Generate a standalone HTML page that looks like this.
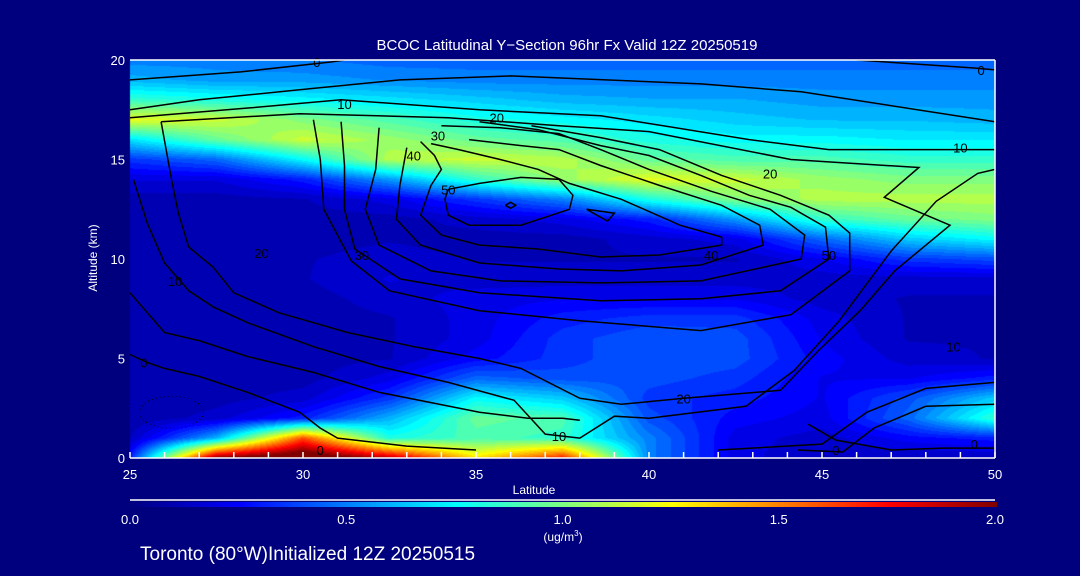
<!DOCTYPE html>
<html><head><meta charset="utf-8">
<style>
html,body{margin:0;padding:0;background:#00007f;}
#wrap{position:relative;width:1080px;height:576px;background:#00007f;overflow:hidden;font-family:"Liberation Sans",sans-serif;color:#fff;}
canvas{position:absolute;left:0;top:0;}
svg{position:absolute;left:0;top:0;}
</style></head>
<body>
<div id="wrap">
<canvas id="heat" width="1080" height="576"></canvas>
<svg id="svg" width="1080" height="576">
  <text x="567" y="50" text-anchor="middle" font-size="15" fill="#fff">BCOC Latitudinal Y−Section 96hr  Fx Valid 12Z 20250519</text>
  <text x="0" y="0" transform="translate(97,258) rotate(-90)" text-anchor="middle" font-size="12" fill="#fff">Altitude (km)</text>
  <text x="534" y="494" text-anchor="middle" font-size="12" fill="#fff">Latitude</text>
  <text x="563" y="541" text-anchor="middle" font-size="12" fill="#fff">(ug/m<tspan font-size="8" dy="-5">3</tspan><tspan dy="5">)</tspan></text>
  <text x="140" y="560" font-size="19" fill="#fff">Toronto (80°W)Initialized 12Z 20250515</text>
  <g id="g-contours"></g>
  <g id="g-axes"></g>
  <g id="g-cbar"></g>
</svg>
</div>
<script>
// ---- data ----
const lats = [25,27.5,30,32.5,35,37.5,40,42.5,45,47.5,50];
const alts = [0,1,2,3,4,5,6,7,8,9,10,11,12,13,14,15,16,17,18,19,20];
const conc25  = [0.3,0.12,0.08,0.08,0.1,0.12,0.12,0.12,0.1,0.08,0.08,0.08,0.08,0.1,0.18,0.35,0.7,1.2,0.85,0.6,0.5];
const conc275 = [2.0,0.6,0.15,0.1,0.1,0.1,0.1,0.1,0.08,0.08,0.08,0.08,0.08,0.1,0.18,0.45,0.95,1.15,0.8,0.55,0.5];
const conc30  = [2.2,1.6,0.3,0.15,0.1,0.1,0.1,0.1,0.1,0.12,0.12,0.1,0.1,0.12,0.3,0.75,1.15,1.0,0.75,0.55,0.48];
const conc325 = [1.9,0.8,0.6,0.35,0.2,0.12,0.12,0.12,0.15,0.18,0.15,0.12,0.1,0.2,0.55,1.1,1.05,0.9,0.7,0.52,0.45];
const conc35  = [1.3,0.9,0.95,0.75,0.45,0.25,0.2,0.2,0.2,0.15,0.12,0.1,0.15,0.35,0.85,1.15,0.95,0.8,0.65,0.5,0.45];
const conc375 = [1.7,0.85,0.9,0.65,0.4,0.35,0.35,0.3,0.22,0.15,0.12,0.1,0.2,0.5,1.05,1.1,0.9,0.75,0.6,0.5,0.45];
const conc40  = [0.5,0.5,0.4,0.35,0.4,0.42,0.42,0.35,0.22,0.15,0.12,0.15,0.3,0.8,1.2,0.95,0.8,0.7,0.58,0.5,0.45];
const conc425 = [0.2,0.2,0.25,0.3,0.35,0.4,0.4,0.35,0.22,0.15,0.12,0.2,0.55,1.0,1.15,0.9,0.75,0.65,0.58,0.5,0.45];
const conc45  = [0.12,0.15,0.2,0.22,0.22,0.25,0.22,0.2,0.15,0.15,0.22,0.45,0.85,1.1,1.05,0.9,0.75,0.62,0.55,0.5,0.45];
const conc475 = [0.12,0.25,0.45,0.4,0.22,0.15,0.12,0.12,0.12,0.15,0.35,0.65,0.95,1.1,1.0,0.85,0.72,0.62,0.55,0.5,0.45];
const conc50  = [0.12,0.3,0.85,0.65,0.3,0.12,0.12,0.12,0.12,0.15,0.4,0.75,1.0,1.1,1.0,0.85,0.72,0.6,0.55,0.5,0.45];
const xTicks = [25,30,35,40,45,50];
const yTicks = [0,5,10,15,20];
const cbarTicks = ["0.0","0.5","1.0","1.5","2.0"];
// contour lines [lat, alt]
const cTop0a = [[25,19],[28.2,19.4],[30.8,19.9],[31.2,20]];
const cTop0b = [[46,20],[49.4,19.6],[50,19.5]];
const c10a = [[25,17.5],[27,18],[29.9,18.5],[32.8,19],[36,19.2],[41.5,18.8],[44.4,18.4],[50,16.9]];
const c10b = [[25,17.1],[28.5,17.6],[31.1,18],[35.1,17.5],[38.6,17.2],[42.9,16],[45.2,15.5],[50,15.5]];
const c20 = [[25.9,16.9],[29.9,17.3],[34.2,17.1],[37.4,16.7],[40,16.4],[44.1,15],[47.8,14.6],[46.8,13.1],[48.7,11.7],[47.1,9.4],[46.1,7.4],[44.9,5.4],[43.8,3.4],[41,3],[39.2,2.7],[38,3],[36.3,4.5],[35.1,5],[33.2,5.6],[31.3,6.3],[29.3,7.3],[28,8.3],[27.4,9.6],[26.7,10.6],[26.4,12.3],[26.2,14],[25.9,16.9]];
const cA = [[25,5.2],[25.5,4.8],[26,4.5],[27,4.1],[28.4,3.3],[29.9,2.3],[30.5,1.5],[31,1],[33,0.6],[35,0.4]];
const cB = [[25,8.3],[26,6.3],[27,5.9],[28.4,5.1],[30.3,4.3],[32.2,3.3],[35.1,2.3],[36.5,2],[37.5,2],[38,1.9]];
const cC = [[25.1,14],[25.5,11.8],[26,9.8],[26.7,8.4],[27.4,7.6],[28.4,6.8],[30.3,5.6],[32.2,4.6],[34.2,3.8],[36.1,2.9],[37,1.2],[38,1],[39,2.1],[40,2],[42.8,2.6],[44.2,4.4],[45.5,6.9],[47,10.4],[48.3,12.9],[49.5,14.3],[50,14.5]];
const cR1 = [[44.3,0.4],[45.6,0.3],[46.5,1.5],[48,2.6],[50,2.7]];
const cR2 = [[42,0.4],[45,0.7],[46.3,2.3],[48,3.5],[50,3.8]];
const cR3 = [[44.6,1.7],[45.4,0.9],[47,0.4],[48.5,0.5],[50,0.5]];
const M40 = [[33.4,15.9],[33.8,15.2],[34,14.5],[33.7,13.7],[33.4,12.2],[34,11.2],[35.1,10.7],[36.8,10.5],[38.6,10.1],[40.3,10.2],[42.1,10.7],[42.1,11.1],[40.9,11.7],[39.2,13],[37.7,13.8],[36.8,14.5],[35.7,15],[34.5,15.5],[33.7,15.8]];
const M45 = [[33,15.6],[32.8,13.7],[32.7,12],[33.4,10.7],[35.1,9.8],[37.4,9.5],[39.2,9.4],[41.5,9.7],[43.3,10.7],[43.2,11.7],[42.1,12.7],[40.3,13.7],[38.6,14.7],[37.4,15.5],[36.3,15.7],[34.8,16]];
const M50 = [[32.2,16.6],[32.1,14.5],[31.8,12.5],[32.2,10.7],[33.7,9.4],[35.7,8.9],[38.6,8.8],[41.5,8.9],[44.4,10],[44.5,11.2],[43.5,12.5],[41.8,13.4],[40,14.5],[38.6,15.5],[37.4,16.3],[35.7,16.6],[34,16.7]];
const M55 = [[31.1,16.9],[31.2,14.7],[31.2,12.5],[31.5,10.5],[32.8,9],[35.1,8.3],[38.6,7.9],[41.5,8],[43.8,8.4],[45.2,10],[45.1,11.6],[44.1,12.6],[42.9,13.2],[41.5,14.2],[40,15.2],[38.6,15.7],[36.8,16.5],[35.1,16.9]];
const M60 = [[30.3,17],[30.5,15],[30.6,12.5],[31.4,9.9],[32.5,8.4],[35.1,7.4],[38,6.9],[41.5,6.4],[44.1,7.2],[45.8,9.4],[45.8,11.3],[45.2,12.2],[43.8,13.2],[42.1,14.2],[40.3,15.5],[38.6,16.1],[36.6,16.7]];
const K1 = [[34.2,13.5],[35.1,13.8],[36.3,14.1],[37.4,14],[37.8,13.2],[37.7,12.5],[36.3,11.7],[34.8,11.7],[34.2,12.2],[34.1,13],[34.2,13.5]];
const K2 = [[35.85,12.7],[36,12.85],[36.15,12.7],[36,12.55],[35.85,12.7]];
const K3 = [[38.2,12.5],[39,12.3],[38.8,11.9],[38.2,12.5]];
const labelPos = [[30.4,19.9],[49.6,19.5],[31.2,17.8],[49,15.6],[35.6,17.1],[33.9,16.2],[33.2,15.2],[43.5,14.3],[34.2,13.5],[41.8,10.2],[41,3],[37.4,1.1],[26.3,8.9],[28.8,10.3],[31.7,10.2],[25.4,4.8],[30.5,0.4],[48.8,5.6],[49.4,0.7],[45.4,0.4],[45.2,10.2]];
const labelText = ["0","0","10","10","20","30","40","20","50","40","20","10","10","20","30","0","0","10","0","0","50"];

// ---- scales ----
const X0=130,X1=995,Y0=458,Y1=60;
const x = lat => X0 + (lat-25)/(50-25)*(X1-X0);
const y = alt => Y0 - alt/20*(Y0-Y1);
function jet(v){
  const t=Math.max(0,Math.min(1,v/2));
  const c=a=>Math.round(255*Math.max(0,Math.min(1,1.5-Math.abs(4*t-a))));
  return [c(3),c(2),c(1)];
}
// ---- heatmap ----
const cols=[conc25,conc275,conc30,conc325,conc35,conc375,conc40,conc425,conc45,conc475,conc50];
const ctx=document.getElementById('heat').getContext('2d');
const img=ctx.createImageData(X1-X0,Y0-Y1);
for(let py=0;py<Y0-Y1;py++){
  const alt=(Y0-Y1-py-0.5)/(Y0-Y1)*20;
  let ai=Math.min(19,Math.floor(alt)), af=alt-ai;
  for(let px=0;px<X1-X0;px++){
    const lat=25+(px+0.5)/(X1-X0)*25;
    let li=Math.min(9,Math.floor((lat-25)/2.5)), lf=(lat-lats[li])/2.5;
    const v=(cols[li][ai]*(1-lf)+cols[li+1][ai]*lf)*(1-af)+(cols[li][ai+1]*(1-lf)+cols[li+1][ai+1]*lf)*af;
    const q=Math.round(v*20)/20;
    const [r,g,b]=jet(q);
    const k=(py*(X1-X0)+px)*4;
    img.data[k]=r;img.data[k+1]=g;img.data[k+2]=b;img.data[k+3]=255;
  }
}
ctx.putImageData(img,X0,Y1);
// ---- svg ----
const NS='http://www.w3.org/2000/svg';
const gC=document.getElementById('g-contours');
const lines=[['contour-0-top-left',cTop0a],['contour-0-top-right',cTop0b],['contour-10-upper',c10a],['contour-10-lower',c10b],['contour-20-outer',c20],['contour-0-left',cA],['contour-0-mid',cB],['contour-10-arm',cC],['contour-0-right-a',cR1],['contour-10-right',cR2],['contour-0-right-b',cR3],['contour-40',M40],['contour-45',M45],['contour-50',M50],['contour-55',M55],['contour-60',M60],['contour-core',K1],['contour-core-dot',K2],['contour-core-tri',K3]];
lines.forEach(([nm,pts])=>{
  const p=document.createElementNS(NS,'polyline');
  p.setAttribute('points',pts.map(d=>x(d[0]).toFixed(1)+','+y(d[1]).toFixed(1)).join(' '));
  p.setAttribute('fill','none');p.setAttribute('stroke','#000');p.setAttribute('stroke-width','1.5');
  
  
  gC.appendChild(p);
});
const el=document.createElementNS(NS,'ellipse');
el.setAttribute('cx',x(26.2));el.setAttribute('cy',y(2.3));el.setAttribute('rx',32);el.setAttribute('ry',16);
el.setAttribute('fill','none');el.setAttribute('stroke','#000');el.setAttribute('stroke-dasharray','1 3');


gC.appendChild(el);
labelPos.forEach((d,i)=>{
  const t=document.createElementNS(NS,'text');
  t.setAttribute('x',x(d[0]));t.setAttribute('y',y(d[1])+5);
  t.setAttribute('text-anchor','middle');t.setAttribute('font-size','13');t.setAttribute('fill','#000');
  t.textContent=labelText[i];
  
  
  gC.appendChild(t);
});
const gA=document.getElementById('g-axes');
function line(g,x1,y1,x2,y2,nm){
  const l=document.createElementNS(NS,'line');
  l.setAttribute('x1',x1);l.setAttribute('y1',y1);l.setAttribute('x2',x2);l.setAttribute('y2',y2);
  l.setAttribute('stroke','#fff');l.setAttribute('stroke-width','1.5');
  
  
  g.appendChild(l);
}
line(gA,X0,Y1,X1,Y1,'plot-top-border');
line(gA,X0,Y0,X1,Y0,'x-axis-line');
line(gA,X1,Y1,X1,Y0,'plot-right-border');
for(let la=25;la<=50;la++){ line(gA,x(la),Y0,x(la),Y0-6,'x-tick'); }
xTicks.forEach(v=>{
  const t=document.createElementNS(NS,'text');
  t.setAttribute('x',x(v));t.setAttribute('y',479);t.setAttribute('text-anchor','middle');
  t.setAttribute('font-size','13');t.setAttribute('fill','#fff');t.textContent=v;
  
  
  gA.appendChild(t);
});
yTicks.forEach(v=>{
  const t=document.createElementNS(NS,'text');
  t.setAttribute('x',125);t.setAttribute('y',y(v)+5);t.setAttribute('text-anchor','end');
  t.setAttribute('font-size','13');t.setAttribute('fill','#fff');t.textContent=v;
  
  
  gA.appendChild(t);
});
// colorbar
const gB=document.getElementById('g-cbar');
line(gB,X0,500,X1,500,'colorbar-top-line');
for(let i=0;i<X1-X0;i+=3){
  const r=document.createElementNS(NS,'rect');
  r.setAttribute('x',X0+i);r.setAttribute('y',502);r.setAttribute('width',3);r.setAttribute('height',5);
  const [cr,cg,cb]=jet(i/(X1-X0)*2);
  r.setAttribute('fill','rgb('+cr+','+cg+','+cb+')');
  
  
  gB.appendChild(r);
}
cbarTicks.forEach((s,i)=>{
  const t=document.createElementNS(NS,'text');
  t.setAttribute('x',X0+i/4*(X1-X0));t.setAttribute('y',524);t.setAttribute('text-anchor','middle');
  t.setAttribute('font-size','13');t.setAttribute('fill','#fff');t.textContent=s;
  
  
  gB.appendChild(t);
});
</script>
</body></html>
